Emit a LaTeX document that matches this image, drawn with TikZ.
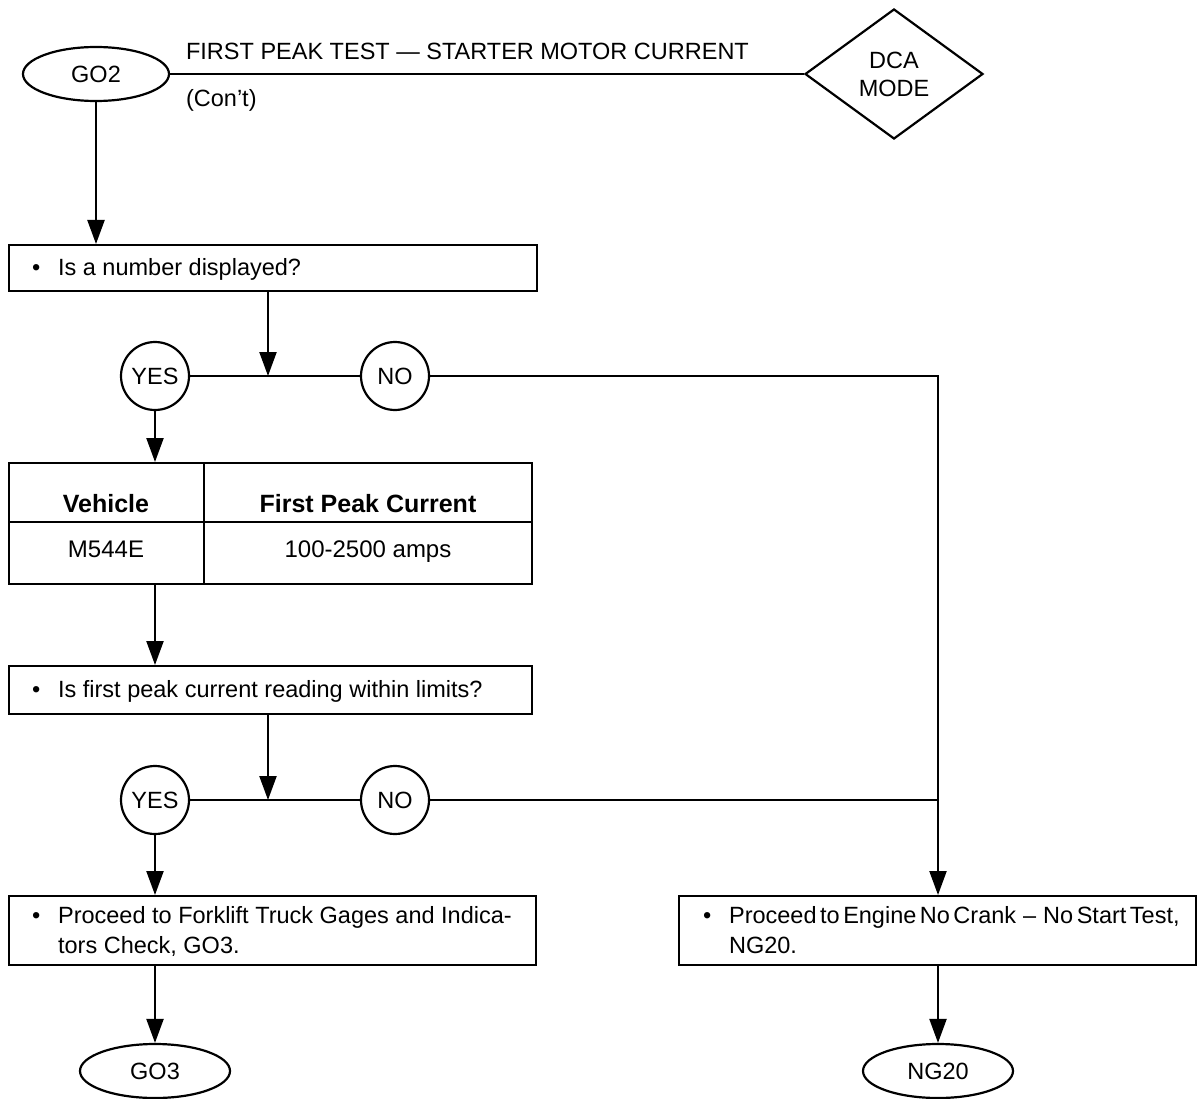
\documentclass[tikz,border=0pt]{standalone}
\usepackage{fontspec}
\setmainfont{Liberation Sans}
\usetikzlibrary{arrows.meta,shapes.geometric,calc}
\begin{document}
\begin{tikzpicture}[x=1pt,y=-1pt,
  line width=2.2pt,
  every node/.style={font=\fontsize{23.5}{28}\selectfont, inner sep=0pt},
  arr/.style={-{Triangle[length=24pt,width=17pt]}},
  term/.style={draw, ellipse, minimum width=146pt, minimum height=54pt},
  ans/.style={draw, circle, minimum size=68pt},
  boxnode/.style={draw, rectangle, anchor=north west},
  txt/.style={anchor=base west},
  hdr/.style={anchor=base, font=\fontsize{25}{30}\selectfont\bfseries},
  cell/.style={anchor=base, font=\fontsize{24}{28}\selectfont},
]
\useasboundingbox (0,0) rectangle (1201,1099);

% header
\node[term] (go2) at (96,74) {GO2};
\node[draw, diamond, minimum width=178pt, minimum height=130pt, align=center] (dca) at (894,74) {DCA\\MODE};
\draw (go2) -- (dca);
\node[txt] (title) at (185,60) {FIRST PEAK TEST — STARTER MOTOR CURRENT};
\node[txt] (cont) at (185,107) {(Con't)};

% question 1
\node[boxnode, minimum width=528pt, minimum height=46pt] (q1) at (8,244) {};
\node[txt] (q1b) at (31,275) {\textbullet};
\node[txt] (q1t) at (57,275) {Is a number displayed?};
\draw[arr] (go2.south) -- (go2.south |- q1.north);

\coordinate (j1) at (268,376);
\draw[arr] (j1 |- q1.south) -- (j1);
\node[ans] (yes1) at (155,376) {YES};
\node[ans] (no1) at (395,376) {NO};
\draw (yes1) -- (no1);
\coordinate (c1) at (938,376);

% table
\node[boxnode, minimum width=523pt, minimum height=121pt] (tbl) at (8,462) {};
\draw (204,462) -- (204,583);
\draw (8,522) -- (531,522);
\node[hdr] (h1) at (106,512) {Vehicle};
\node[hdr] (h2) at (368,512) {First Peak Current};
\node[cell] (v1) at (106,557) {M544E};
\node[cell] (v2) at (368,557) {100-2500 amps};
\draw[arr] (yes1) -- (yes1 |- tbl.north);

% question 2
\node[boxnode, minimum width=523pt, minimum height=48pt] (q2) at (8,665) {};
\node[txt] (q2b) at (31,697) {\textbullet};
\node[txt] (q2t) at (57,697) {Is first peak current reading within limits?};
\draw[arr] (yes1 |- tbl.south) -- (yes1 |- q2.north);

\coordinate (j2) at (268,800);
\draw[arr] (j2 |- q2.south) -- (j2);
\node[ans] (yes2) at (155,800) {YES};
\node[ans] (no2) at (395,800) {NO};
\draw (yes2) -- (no2);

% result boxes
\node[boxnode, minimum width=527pt, minimum height=69pt] (r1) at (8,895) {};
\node[txt] (r1b) at (31,923) {\textbullet};
\node[txt] (r1t) at (57,923) {Proceed to Forklift Truck Gages and Indica-};
\node[txt] (r1u) at (57,953) {tors Check, GO3.};

\node[boxnode, minimum width=517pt, minimum height=69pt] (r2) at (678,895) {};
\node[txt] (r2b) at (702,923) {\textbullet};
\node[txt] (r2t) at (728,923) {\spaceskip=0.15em Proceed to Engine No Crank\hspace{7pt}–\hspace{7pt}No Start Test,};
\node[txt] (r2u) at (728,953) {NG20.};

\draw[arr] (no1) -- (c1) -- (c1 |- r2.north);
\draw (no2) -- (no2 -| c1);
\draw[arr] (yes2) -- (yes2 |- r1.north);

% terminals
\node[term, minimum width=150pt] (go3) at (155,1071) {GO3};
\node[term, minimum width=150pt] (ng20) at (938,1071) {NG20};
\draw[arr] (r1.south -| go3) -- (go3);
\draw[arr] (r2.south -| ng20) -- (ng20);
\end{tikzpicture}
\end{document}
